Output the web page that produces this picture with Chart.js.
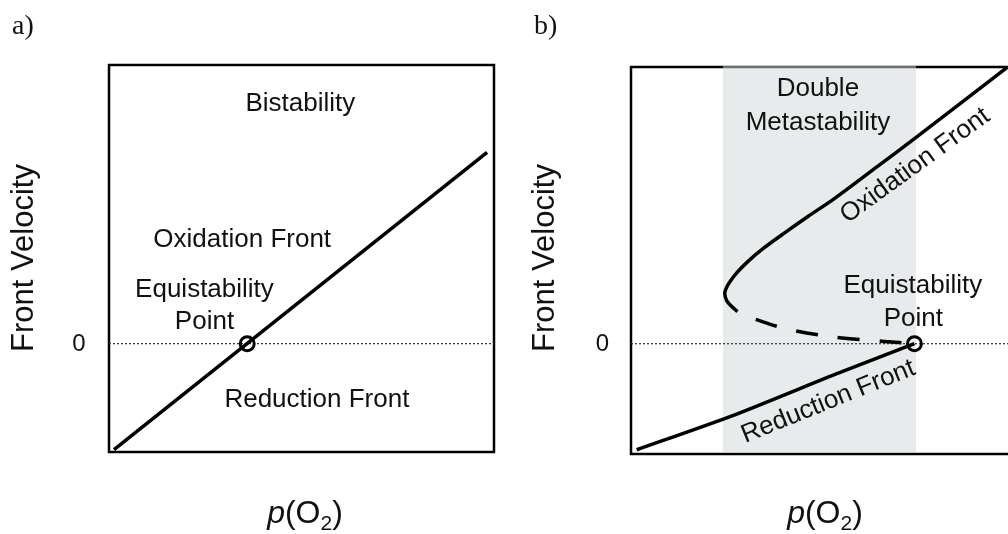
<!DOCTYPE html>
<html><head><meta charset="utf-8">
<script src="https://cdn.jsdelivr.net/npm/chart.js@4"></script>
<style>
html,body{margin:0;padding:0;background:#fff;overflow:hidden;width:1008px;height:534px;position:relative;}
canvas{position:absolute;top:0;}
#ca{left:0;} #cb{left:504px;}
</style></head><body>
<canvas id="ca" width="504" height="534"></canvas>
<canvas id="cb" width="520" height="534"></canvas>
<script>
// ---------- Panel a data ----------
const aLineX = [1.3, 98.2];
const aLineY = [-27.4, 49.4];
const aEquiX = [35.9];
const aEquiY = [0];
// ---------- Panel b data ----------
const bRedX = [1.5, 27.3, 53.1, 74.0];
const bRedY = [-27.4, -18.3, -8.0, 0];
const bOxX = [99.0, 74.7, 64.2, 53.1, 46.1, 40.2, 34.8, 30.7, 27.6, 25.5, 24.5, 25.0, 26.3, 27.8];
const bOxY = [72.0, 53.5, 45.7, 37.5, 32.8, 28.7, 24.8, 21.4, 18.3, 15.5, 13.2, 11.1, 9.6, 8.3];
const bUnX = [27.8, 30.9, 40.3, 53.2, 66.1, 74.0];
const bUnY = [8.3, 6.9, 3.9, 1.7, 0.6, 0];
const bEquiX = [74.0];
const bEquiY = [0];
const bBand = [24.0, 74.4];
// ---------- shared ----------
const zeroX = [0, 100];
const zeroY = [0, 0];
const yTickValues = [0];
const yTickLabels = ['0'];
const xTitle = ['p', '(O', '2', ')'];
const yTitle = 'Front Velocity';

const pts = (xs, ys) => xs.map((x, i) => ({x, y: ys[i]}));
const SANS = '"Liberation Sans", Arial, Helvetica, sans-serif';
const SERIF = '"Liberation Serif", "Times New Roman", serif';

const panelPlugin = {
  id: 'panel',
  beforeDatasetsDraw(chart, args, o) {
    const {ctx, chartArea: {left, top, right, bottom}, scales: {x}} = chart;
    ctx.save();
    ctx.strokeStyle = '#000';
    ctx.lineWidth = 2.5;
    ctx.strokeRect(left, top, right - left, bottom - top);
    if (o.band) {
      const x0 = x.getPixelForValue(o.band[0]), x1 = x.getPixelForValue(o.band[1]);
      ctx.fillStyle = 'rgba(211,216,216,0.52)';
      ctx.fillRect(x0, top - 1.5, x1 - x0, bottom - top + 0.2);
    }
    ctx.restore();
  },
  afterDatasetsDraw(chart, args, o) {
    const {ctx, scales: {x, y}} = chart;
    ctx.save();
    ctx.fillStyle = '#111';
    ctx.font = '26px ' + SANS;
    ctx.textAlign = 'center';
    ctx.textBaseline = 'middle';
    (o.labels || []).forEach(l => {
      const px = x.getPixelForValue(l.x), py = y.getPixelForValue(l.y);
      ctx.save();
      ctx.translate(px, py);
      if (l.rot) ctx.rotate(l.rot * Math.PI / 180);
      ctx.fillText(l.text, 0, 0);
      ctx.restore();
    });
    ctx.restore();
  },
  afterDraw(chart, args, o) {
    const {ctx, scales: {y}} = chart;
    ctx.save();
    ctx.fillStyle = '#111';
    // panel letter
    ctx.font = '28px ' + SERIF;
    ctx.textAlign = 'left';
    ctx.textBaseline = 'alphabetic';
    ctx.fillText(o.letter, o.letterX, 34);
    // y ticks
    ctx.font = '24px ' + SANS;
    ctx.textAlign = 'center';
    ctx.textBaseline = 'middle';
    yTickValues.forEach((v, i) => ctx.fillText(yTickLabels[i], o.tickX, y.getPixelForValue(v) + 1));
    // y title
    ctx.save();
    ctx.translate(o.yTitleX, 258);
    ctx.rotate(-Math.PI / 2);
    ctx.font = '31px ' + SANS;
    ctx.fillText(yTitle, 0, 0);
    ctx.restore();
    // x title p(O2)
    const big = '32px ' + SANS, bigI = 'italic 32px ' + SANS, sub = '21px ' + SANS;
    const parts = [[xTitle[0], bigI, 0], [xTitle[1], big, 0], [xTitle[2], sub, 7], [xTitle[3], big, 0]];
    let w = 0;
    parts.forEach(p => { ctx.font = p[1]; w += ctx.measureText(p[0]).width; });
    let cx = o.xTitleX - w / 2;
    ctx.textAlign = 'left';
    ctx.textBaseline = 'alphabetic';
    parts.forEach(p => { ctx.font = p[1]; ctx.fillText(p[0], cx, 523 + p[2]); cx += ctx.measureText(p[0]).width; });
    ctx.restore();
  }
};

function baseOptions(pad, ymin, ymax, plug) {
  return {
    responsive: false, animation: false, events: [],
    layout: {padding: pad},
    plugins: {legend: {display: false}, tooltip: {enabled: false}, panel: plug},
    scales: {
      x: {type: 'linear', min: 0, max: 100, display: false},
      y: {type: 'linear', min: ymin, max: ymax, display: false}
    }
  };
}
const curve = (data, extra) => Object.assign({data, borderColor: '#000', borderWidth: 3.5, pointRadius: 0, tension: 0.3, fill: false}, extra || {});
const marker = data => ({data, showLine: false, pointRadius: 7, pointBorderWidth: 3, pointBorderColor: '#000', pointBackgroundColor: 'rgba(0,0,0,0)', borderColor: '#000'});
const zero = () => ({data: pts(zeroX, zeroY), borderColor: '#333', borderWidth: 1.2, borderDash: [2, 2], pointRadius: 0, fill: false, tension: 0});

new Chart(document.getElementById('ca'), {
  type: 'line',
  data: {datasets: [
    marker(pts(aEquiX, aEquiY)),
    curve(pts(aLineX, aLineY), {tension: 0}),
    zero()
  ]},
  options: baseOptions({left: 109, top: 65, right: 8, bottom: 82}, -28, 72, {
    letter: 'a)', letterX: 12, tickX: 79, yTitleX: 24, xTitleX: 305,
    labels: [
      {text: 'Bistability', x: 49.7, y: 62.0},
      {text: 'Oxidation Front', x: 34.6, y: 26.7},
      {text: 'Equistability', x: 24.8, y: 14.0},
      {text: 'Point', x: 24.8, y: 5.7},
      {text: 'Reduction Front', x: 54.0, y: -14.5}
    ]
  }),
  plugins: [panelPlugin]
});

new Chart(document.getElementById('cb'), {
  type: 'line',
  data: {datasets: [
    marker(pts(bEquiX, bEquiY)),
    curve(pts(bOxX, bOxY)),
    curve(pts(bUnX, bUnY), {borderDash: [22, 20], borderDashOffset: 22}),
    curve(pts(bRedX, bRedY), {tension: 0.2}),
    zero()
  ]},
  options: baseOptions({left: 127, top: 67, right: 5, bottom: 80}, -28.5, 71.5, {
    letter: 'b)', letterX: 30, tickX: 98.5, yTitleX: 41.5, xTitleX: 321, band: bBand,
    labels: [
      {text: 'Double', x: 48.8, y: 65.9},
      {text: 'Metastability', x: 48.8, y: 57.2},
      {text: 'Equistability', x: 73.6, y: 14.9},
      {text: 'Point', x: 73.7, y: 6.5},
      {text: 'Oxidation Front', x: 74.2, y: 46.0, rot: -36},
      {text: 'Reduction Front', x: 51.5, y: -15.0, rot: -22}
    ]
  }),
  plugins: [panelPlugin]
});
</script>
</body></html>
